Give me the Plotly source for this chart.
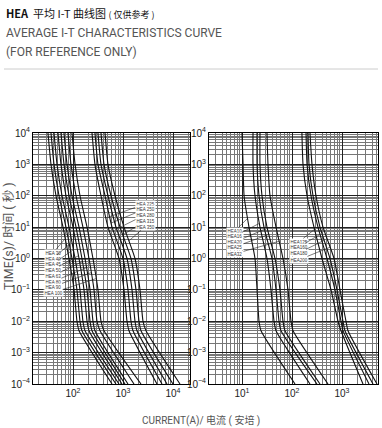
import numpy as np
import plotly.graph_objects as go

# ---------------- data ----------------
TIMES = [1e4, 1e3, 1e2, 1e1, 1e0, 1e-1, 1e-2, 5e-3, 1e-4]   # seconds

# left panel, group 1
LEFT_G1_NAMES = ["HEA 30", "HEA 40", "HEA 45", "HEA 50", "HEA 63", "HEA 80", "HEA 90", "HEA 100"]
LEFT_G1_CURRENTS = [
    [31.6, 36.3, 45.7, 63.1, 83.2, 105, 120, 132, 603],
    [36.3, 41.7, 52.5, 72.4, 95.5, 120, 138, 151, 724],
    [41.7, 47.9, 60.3, 83.2, 110, 138, 158, 174, 832],
    [50.1, 57.5, 72.4, 100, 132, 166, 191, 209, 955],
    [57.5, 66.1, 83.2, 115, 151, 191, 219, 240, 1096],
    [66.1, 75.9, 95.5, 132, 174, 219, 251, 275, 1259],
    [79.4, 91.2, 115, 158, 209, 263, 302, 347, 1660],
    [95.5, 110, 138, 191, 251, 316, 363, 417, 2291],
]
# left panel, group 2
LEFT_G2_NAMES = ["HEA 225", "HEA 250", "HEA 280", "HEA 315", "HEA 350"]
LEFT_G2_CURRENTS = [
    [240, 275, 363, 501, 832, 1047, 1202, 1318, 4786],
    [275, 316, 437, 603, 1000, 1259, 1445, 1585, 6026],
    [316, 363, 501, 724, 1202, 1514, 1738, 1905, 7586],
    [363, 417, 575, 871, 1445, 1820, 2089, 2291, 10000],
    [437, 501, 692, 1047, 1738, 2188, 2512, 2884, 13804],
]
# right panel, group 1
RIGHT_G1_NAMES = ["HEA10", "HEA16", "HEA20", "HEA25", "HEA32"]
RIGHT_G1_CURRENTS = [
    [10.0, 10.5, 11.0, 13.8, 18.2, 20.0, 21.9, 24.0, 115],
    [16.6, 16.6, 18.2, 22.9, 31.6, 38.0, 43.7, 47.9, 229],
    [20.0, 20.0, 21.9, 27.5, 39.8, 47.9, 55.0, 60.3, 316],
    [22.9, 22.9, 25.1, 31.6, 45.7, 57.5, 66.1, 72.4, 363],
    [31.6, 33.1, 36.3, 47.9, 66.1, 83.2, 95.5, 105, 525],
]
# right panel, group 2
RIGHT_G2_NAMES = ["HEA125", "HEA160", "HEA180", "HEA200"]
RIGHT_G2_CURRENTS = [
    [158, 166, 200, 275, 398, 603, 832, 955, 2630],
    [191, 200, 240, 331, 501, 724, 955, 1047, 3467],
    [209, 219, 263, 363, 575, 794, 1047, 1148, 4169],
    [229, 251, 302, 417, 692, 912, 1202, 1318, 5012],
]

# tick labels
Y_EXPONENTS = [-4, -3, -2, -1, 0, 1, 2, 3, 4]
LEFT_X_EXPONENTS = [2, 3, 4]
RIGHT_X_EXPONENTS = [1, 2, 3]

def pow_text(e):
    s = str(e).replace("-", "\u2212")
    return "10<sup>" + s + "</sup>"

# ---------------- layout helpers ----------------
W, H = 382, 428
def px(x):
    return x / W
def py(y):
    return 1 - y / H

PLOT_TOP, PLOT_BOTTOM = 133, 384

FONT = "Roboto, 'Noto Sans CJK SC', sans-serif"
CJK = "'Noto Sans CJK SC', Roboto, sans-serif"

fig = go.Figure()

def add_group(currents, xa, ya):
    for cur in currents:
        fig.add_trace(go.Scatter(
            x=cur, y=TIMES, mode="lines", xaxis=xa, yaxis=ya,
            line=dict(color="#111", width=1.1, shape="spline", smoothing=0.5),
            showlegend=False, hoverinfo="skip"))

add_group(LEFT_G1_CURRENTS, "x", "y")
add_group(LEFT_G2_CURRENTS, "x", "y")
add_group(RIGHT_G1_CURRENTS, "x2", "y2")
add_group(RIGHT_G2_CURRENTS, "x2", "y2")

# curve labels with leader lines
LOGT = np.log10(TIMES)[::-1]
def logI_at(cur, lt):
    return float(np.interp(lt, LOGT, np.log10(cur)[::-1]))

def add_labels(names, currents, xref, yref, label_logI, label_logts, dlt):
    for name, cur, lt in zip(names, currents, label_logts):
        et = lt + dlt
        fig.add_annotation(
            x=logI_at(cur, et), y=et, xref=xref, yref=yref,
            ax=label_logI, ay=lt, axref=xref, ayref=yref,
            text=name, showarrow=True, arrowhead=0, arrowwidth=0.6,
            arrowcolor="#222", standoff=0,
            font=dict(size=4.5, color="#333", family="Liberation Sans"),
            bgcolor="white", borderpad=0.6)

add_labels(LEFT_G1_NAMES, LEFT_G1_CURRENTS, "x", "y", 1.6,
           [0.18, 0.0, -0.17, -0.36, -0.55, -0.74, -0.90, -1.09], 0.45)
add_labels(LEFT_G2_NAMES, LEFT_G2_CURRENTS, "x", "y", 3.44,
           [1.74, 1.58, 1.39, 1.20, 1.01], -0.45)
add_labels(RIGHT_G1_NAMES, RIGHT_G1_CURRENTS, "x2", "y2", 0.86,
           [0.88, 0.72, 0.53, 0.37, 0.15], 0.4)
add_labels(RIGHT_G2_NAMES, RIGHT_G2_CURRENTS, "x2", "y2", 2.14,
           [0.53, 0.37, 0.18, -0.04], 0.4)

axis_common = dict(
    type="log", showline=True, linecolor="black", linewidth=1, mirror=True,
    ticks="", showgrid=True, gridcolor="#222", gridwidth=0.9, zeroline=False,
    automargin=False,
    minor=dict(showgrid=True, gridcolor="#777", gridwidth=0.5, dtick="D1"),
    tickfont=dict(size=10, color="#222", family="Liberation Sans"),
)

def yax(domain, anchor):
    return dict(axis_common, domain=domain, range=[-4, 4], anchor=anchor,
                tickmode="array", tickvals=[10.0 ** e for e in Y_EXPONENTS],
                ticktext=[pow_text(e) for e in Y_EXPONENTS])

def xax(domain, rng, anchor, exps):
    return dict(axis_common, domain=domain, range=rng, anchor=anchor,
                tickmode="array", tickvals=[10.0 ** e for e in exps],
                ticktext=[pow_text(e) for e in exps])

ydom = [py(PLOT_BOTTOM), py(PLOT_TOP)]
fig.update_layout(
    width=W, height=H, autosize=False,
    margin=dict(l=0, r=0, t=0, b=0),
    paper_bgcolor="white", plot_bgcolor="white",
    xaxis=xax([px(33), px(190)], [1.2, 4.34], "y", LEFT_X_EXPONENTS),
    yaxis=yax(ydom, "x"),
    xaxis2=xax([px(209), px(378)], [0.34, 3.72], "y2", RIGHT_X_EXPONENTS),
    yaxis2=yax(ydom, "x2"),
)

# header
fig.add_annotation(x=px(4), y=py(13), xref="paper", yref="paper", xanchor="left", yanchor="middle",
                   showarrow=False,
                   text="<b>HEA</b>  平均 I-T 曲线图 <span style='font-size:9px'>( 仅供参考 )</span>",
                   font=dict(size=11, color="#111", family=CJK))
fig.add_annotation(x=px(4), y=py(33), xref="paper", yref="paper", xanchor="left", yanchor="middle",
                   showarrow=False, text="AVERAGE I-T CHARACTERISTICS CURVE",
                   font=dict(size=12, color="#555", family=FONT))
fig.add_annotation(x=px(4), y=py(52), xref="paper", yref="paper", xanchor="left", yanchor="middle",
                   showarrow=False, text="(FOR REFERENCE ONLY)",
                   font=dict(size=12, color="#555", family=FONT))
fig.add_shape(type="line", xref="paper", yref="paper", x0=px(4), x1=px(378), y0=py(69), y1=py(69),
              line=dict(color="#ccc", width=1))

# axis titles
fig.add_annotation(x=px(9), y=py(236), xref="paper", yref="paper", textangle=-90,
                   xanchor="center", yanchor="middle",
                   showarrow=False, text="TIME(s)/ 时间 ( 秒 )",
                   font=dict(size=12.5, color="#555", family=FONT))
fig.add_annotation(x=px(201), y=py(420), xref="paper", yref="paper",
                   xanchor="center", yanchor="middle",
                   showarrow=False, text="CURRENT(A)/ 电流 ( 安培 )",
                   font=dict(size=10, color="#555", family=FONT))

fig.write_html("out.html", config={"displayModeBar": False},
               post_script="document.body.style.margin='0';document.body.style.padding='0';")
